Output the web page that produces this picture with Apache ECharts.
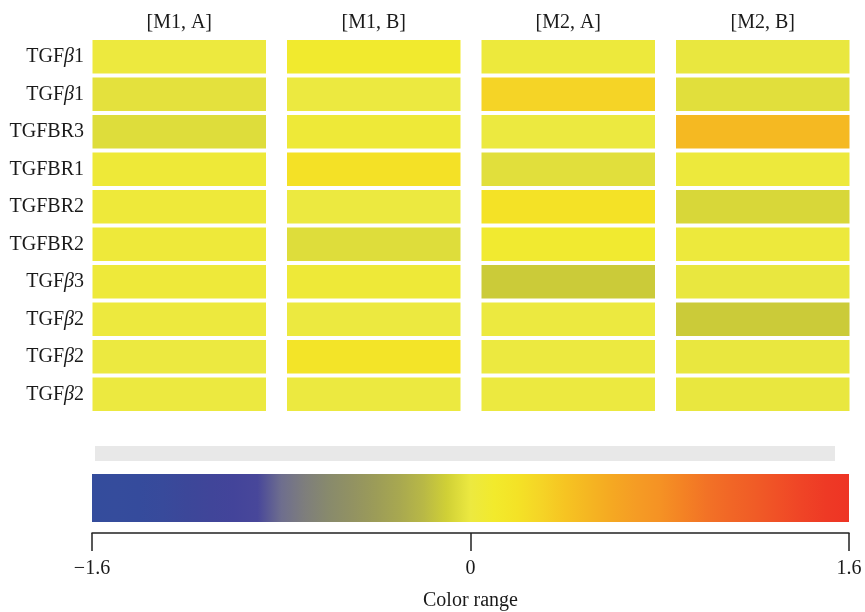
<!DOCTYPE html>
<html>
<head>
<meta charset="utf-8">
<script src="https://cdn.jsdelivr.net/npm/echarts@6/dist/echarts.min.js"></script>
<style>
  html, body { margin: 0; padding: 0; background: #fff; }
  #chart { width: 865px; height: 612px; }
</style>
</head>
<body>
<div id="chart"></div>
<script>
// columns and rows of the heatmap
var columns = ['[M1, A]', '[M1, B]', '[M2, A]', '[M2, B]'];
var genes = ['TGFβ1', 'TGFβ1', 'TGFBR3', 'TGFBR1', 'TGFBR2', 'TGFBR2', 'TGFβ3', 'TGFβ2', 'TGFβ2', 'TGFβ2'];

// values per column, top row first
var m1a = [0.01, -0.03, -0.05, 0.04, 0.03, 0.03, 0.03, 0.01, 0.00, 0.00];
var m1b = [0.09, 0.00, 0.04, 0.21, 0.00, -0.05, 0.04, 0.00, 0.17, 0.00];
var m2a = [0.02, 0.30, 0.00, -0.04, 0.20, 0.08, -0.12, 0.00, 0.00, 0.00];
var m2b = [-0.01, -0.04, 0.48, 0.02, -0.07, 0.02, -0.01, -0.12, -0.01, -0.01];

var rangeTicks = [-1.6, 0, 1.6];

// colour ramp, evenly spaced from -1.6 to 1.6 (step 0.1)
var ramp = [
  '#344c9c', '#354c9c', '#354b9c', '#384a9b', '#3c4799', '#404599', '#43449a', '#48479a',
  '#6e6e8e', '#7e7e7c', '#888a6c', '#929262', '#9c9c58', '#a8a850', '#b8b846', '#d0d036',
  '#ece940',
  '#f2ea2c', '#f4e226', '#f5d426', '#f6c422', '#f5b622', '#f5a822', '#f59c24', '#f59224',
  '#f48224', '#f27226', '#f16626', '#f05c26', '#f05026', '#ef4426', '#ee3a25', '#ee3424'
];

var cols = [m1a, m1b, m2a, m2b];
var cells = [];
cols.forEach(function (vals, ci) {
  vals.forEach(function (v, ri) { cells.push([ci, ri, v]); });
});

// same ramp drawn as the colour bar (square ends)
var barStops = ramp.map(function (c, i) { return { offset: i / (ramp.length - 1), color: c }; });

var font = '"Liberation Serif", "DejaVu Serif", serif';
var ink = '#1a1a1a';
var fs = 20;

var chart = echarts.init(document.getElementById('chart'));
chart.setOption({
  animation: false,
  backgroundColor: '#fff',
  textStyle: { fontFamily: font, color: ink },
  grid: [
    { left: 82, right: 5, top: 38, bottom: 199 },
    { left: 92, right: 16, top: 532, height: 1 }
  ],
  xAxis: [
    {
      type: 'category', gridIndex: 0, position: 'top', data: columns,
      axisLine: { show: false }, axisTick: { show: false },
      axisLabel: { fontFamily: font, fontSize: fs, color: ink, margin: 5 }
    },
    {
      type: 'value', gridIndex: 1, min: -1.6, max: 1.6, interval: 1.6,
      splitLine: { show: false },
      axisLine: { lineStyle: { color: '#222', width: 1.5 } },
      axisTick: { length: 18, lineStyle: { color: '#222', width: 1.5 } },
      axisLabel: {
        fontFamily: font, fontSize: fs, color: ink, margin: 26,
        formatter: function (v) { return String(v).replace('-', '\u2212'); }
      },
      name: 'Color range', nameLocation: 'middle', nameGap: 58,
      nameTextStyle: { fontFamily: font, fontSize: fs, color: ink }
    }
  ],
  yAxis: [
    {
      type: 'category', gridIndex: 0, data: genes, inverse: true,
      axisLine: { show: false }, axisTick: { show: false },
      axisLabel: {
        fontFamily: font, fontSize: fs, color: ink, margin: -2,
        formatter: function (v) { return v.replace('β', '{i|β}'); },
        rich: { i: { fontFamily: font, fontSize: fs, color: ink, fontStyle: 'italic' } }
      }
    },
    { type: 'value', gridIndex: 1, show: false }
  ],
  visualMap: {
    show: false,
    type: 'continuous', min: -1.6, max: 1.6, dimension: 2, seriesIndex: 0,
    inRange: { color: ramp }
  },
  graphic: [
    { type: 'rect', left: 95, top: 446, shape: { width: 740, height: 15 }, style: { fill: '#e8e8e8' }, silent: true },
    {
      type: 'rect', left: 92, top: 474, shape: { width: 757, height: 48 }, silent: true,
      style: { fill: new echarts.graphic.LinearGradient(0, 0, 1, 0, barStops) }
    }
  ],
  series: [
    {
      type: 'custom', xAxisIndex: 0, yAxisIndex: 0, data: cells,
      renderItem: function (params, api) {
        var c = api.coord([api.value(0), api.value(1)]);
        var s = api.size([1, 1]);
        var w = s[0] - 21, h = s[1] - 4;
        return {
          type: 'rect',
          shape: { x: c[0] - w / 2, y: c[1] - h / 2, width: w, height: h },
          style: { fill: api.visual('color') }
        };
      }
    }
  ]
});
</script>
</body>
</html>
